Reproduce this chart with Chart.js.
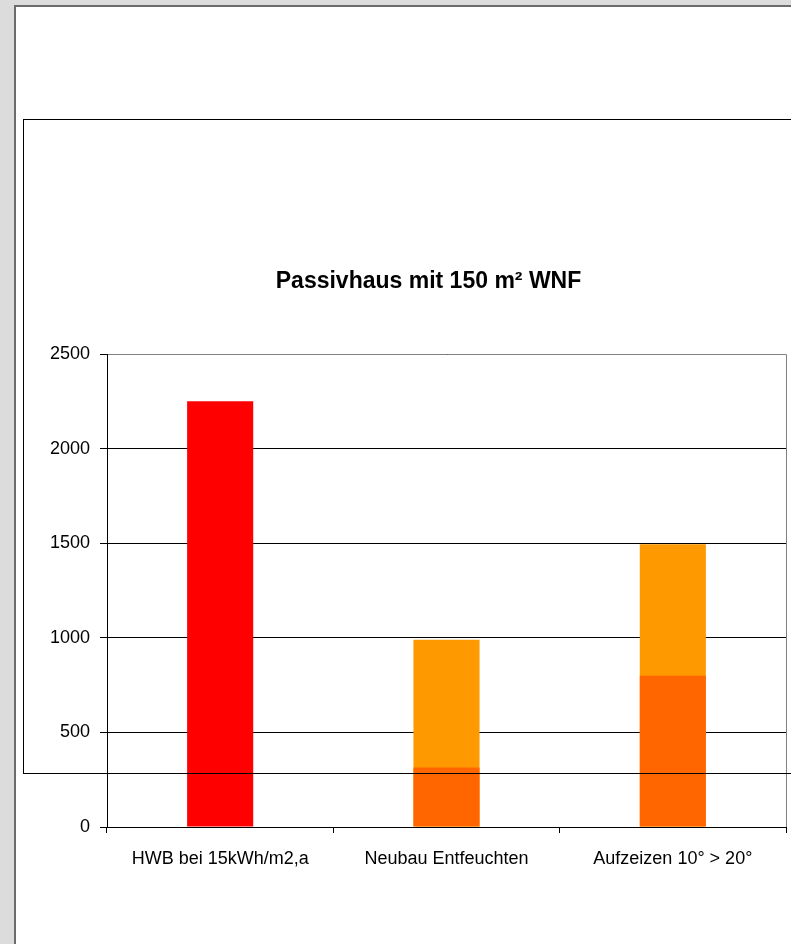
<!DOCTYPE html>
<html>
<head>
<meta charset="utf-8">
<script src="https://cdn.jsdelivr.net/npm/chart.js@4/dist/chart.umd.min.js"></script>
<style>
  html, body { margin: 0; padding: 0; overflow: hidden; background: #dcdcdc; }
  #wrap { position: relative; width: 791px; height: 944px; }
  canvas { display: block; }
</style>
</head>
<body>
<div id="wrap"><canvas id="c" width="791" height="944"></canvas></div>
<script>
// Categories and values (kWh per year)
const categories = ['HWB bei 15kWh/m2,a', 'Neubau Entfeuchten', 'Aufzeizen 10° > 20°'];
const heatDemand = [2250, null, null];      // red bar
const totalDemand = [null, 990, 1495];      // light orange, full height
const partDemand = [null, 315, 800];        // dark orange, drawn in front
const yTicks = [0, 500, 1000, 1500, 2000, 2500];
const chartTitle = 'Passivhaus mit 150 m² WNF';

const FONT = "'Liberation Sans', Arial, sans-serif";

// Page background, outer frame, plot border and title
const framePlugin = {
  id: 'frame',
  beforeDraw(chart) {
    const ctx = chart.ctx;
    ctx.save();
    ctx.fillStyle = '#dcdcdc';
    ctx.fillRect(0, 0, chart.width, chart.height);
    ctx.fillStyle = '#ffffff';
    ctx.fillRect(16, 7, chart.width - 16, chart.height - 7);
    ctx.fillStyle = '#6b6b6b';
    ctx.fillRect(14, 5, 2, chart.height - 5);
    ctx.fillRect(14, 5, chart.width - 14, 2);
    ctx.restore();
  },
  afterDraw(chart) {
    const ctx = chart.ctx;
    const a = chart.chartArea;
    ctx.save();
    // grey plot border (top and right)
    ctx.strokeStyle = '#808080';
    ctx.lineWidth = 1;
    ctx.beginPath();
    ctx.moveTo(Math.round(a.left) + 1, Math.round(a.top) + 0.5);
    ctx.lineTo(Math.round(a.right) + 0.5, Math.round(a.top) + 0.5);
    ctx.lineTo(Math.round(a.right) + 0.5, Math.round(a.bottom));
    ctx.stroke();
    // chart object frame
    ctx.strokeStyle = '#000000';
    ctx.strokeRect(23.5, 119.5, 820, 654);
    // title
    ctx.fillStyle = '#000000';
    ctx.font = 'bold 23px ' + FONT;
    ctx.textAlign = 'center';
    ctx.textBaseline = 'alphabetic';
    ctx.fillText(chartTitle, 428.5, 288);
    ctx.restore();
  }
};

new Chart(document.getElementById('c'), {
  type: 'bar',
  data: {
    labels: categories,
    datasets: [
      { label: 'HWB', data: heatDemand, backgroundColor: '#ff0000', order: 0 },
      { label: 'Anteil', data: partDemand, backgroundColor: '#ff6600', order: 0 },
      { label: 'Gesamt', data: totalDemand, backgroundColor: '#ff9900', order: 1 }
    ]
  },
  options: {
    responsive: false,
    animation: false,
    devicePixelRatio: 1,
    layout: { padding: { top: 354, right: 5, bottom: 57, left: 0 } },
    datasets: { bar: { barPercentage: 0.292, categoryPercentage: 1 } },
    plugins: { legend: { display: false }, tooltip: { enabled: false }, title: { display: false } },
    scales: {
      x: {
        stacked: true,
        offset: true,
        grid: { display: true, drawOnChartArea: false, drawTicks: true, tickLength: 6, color: '#000000', offset: true },
        border: { color: '#000000', width: 1 },
        ticks: { color: '#000000', font: { family: FONT, size: 18 }, padding: 15, maxRotation: 0, autoSkip: false },
        afterFit(s) { s.height = 60; }
      },
      y: {
        stacked: false,
        min: 0,
        max: 2500,
        afterBuildTicks(s) { s.ticks = yTicks.map(v => ({ value: v })); },
        grid: { color: '#000000', tickLength: 7, lineWidth: 1 },
        border: { color: '#000000', width: 1 },
        ticks: { color: '#000000', font: { family: FONT, size: 18 }, padding: 10, callback: v => String(v) },
        afterFit(s) { s.width = 107; }
      }
    }
  },
  plugins: [framePlugin]
});
</script>
</body>
</html>
